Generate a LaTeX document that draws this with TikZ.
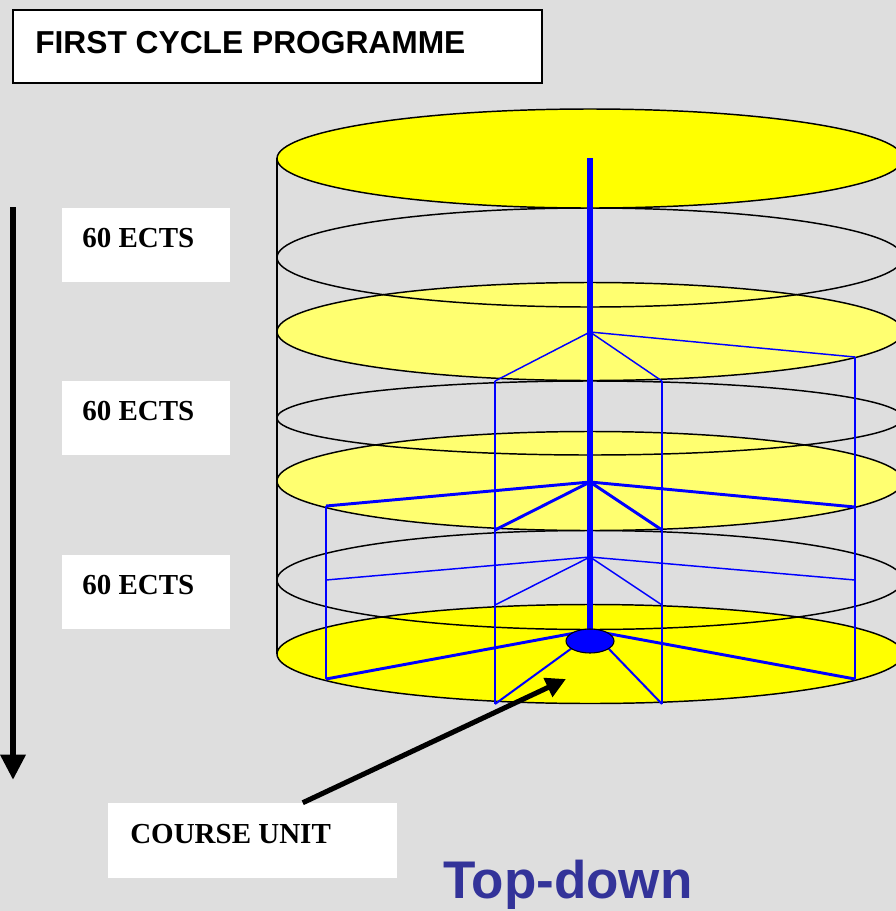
\documentclass[tikz,border=0pt]{standalone}
\usepackage{fontspec}
\setmainfont{Liberation Serif}
\newfontfamily\arialfont{Liberation Sans}
\usetikzlibrary{arrows.meta}
\definecolor{bgray}{RGB}{222,222,222}
\definecolor{ylw}{RGB}{255,255,0}
\definecolor{lylw}{RGB}{255,255,112}
\definecolor{tdblue}{RGB}{51,51,153}
\definecolor{rodblue}{RGB}{0,0,255}
\tikzset{
  cyl/.style={draw=black, line width=1.1pt},
  bthin/.style={draw=rodblue, line width=1.1pt},
  bmid/.style={draw=rodblue, line width=1.5pt},
  bthick/.style={draw=rodblue, line width=2.2pt},
  ectsbox/.style={fill=white, draw=none},
  ectstext/.style={font=\bfseries\fontsize{21.75}{24}\selectfont, anchor=base west, inner sep=0pt},
}
\begin{document}
\begin{tikzpicture}[x=0.75pt,y=-0.75pt]
\useasboundingbox (0,0) rectangle (896,911);
\fill[bgray] (0,0) rectangle (896,911);

% title box
\node[draw=black, line width=1.5pt, fill=white, minimum width=529*0.75pt, minimum height=73*0.75pt, inner sep=0pt] (titlebox) at (277.5,46.5) {};
\node[font=\arialfont\bfseries\fontsize{23.8}{26}\selectfont, anchor=base west, inner sep=0pt] (title) at (35,53) {FIRST CYCLE PROGRAMME};

% cylinder
\begin{scope}
\clip (0,0) rectangle (896,911);
\draw[cyl] (277,158) -- (277,654);
\draw[cyl, fill=ylw] (590,654) ellipse [x radius=313, y radius=49.5];
\draw[cyl] (590,580) ellipse [x radius=313, y radius=49.5];
\draw[cyl, fill=lylw] (590,481) ellipse [x radius=313, y radius=49.5];
\draw[cyl] (590,418) ellipse [x radius=313, y radius=37];
\draw[cyl, fill=lylw] (590,331.5) ellipse [x radius=313, y radius=49];
\draw[cyl] (590,257.5) ellipse [x radius=313, y radius=49.5];
\draw[cyl, fill=ylw] (590,158.5) ellipse [x radius=313, y radius=49.5];
\end{scope}

% blue structure
\coordinate (top) at (590,158);
\coordinate (h1) at (590,332);
\coordinate (h2) at (590,482);
\coordinate (h3) at (590,557);
\coordinate (p1t) at (495,381); \coordinate (p1b) at (495,704);
\coordinate (p2t) at (662,381); \coordinate (p2b) at (662,704);
\coordinate (p3t) at (855,357); \coordinate (p3b) at (855,679);
\coordinate (p4t) at (326,506); \coordinate (p4b) at (326,679);

\draw[bthin] (p1t) -- (p1b);
\draw[bthin] (p2t) -- (p2b);
\draw[bthin] (p3t) -- (p3b);
\draw[bthin] (p4t) -- (p4b);

\draw[bthin] (p1t) -- (h1) -- (p2t);
\draw[bthin] (h1) -- (p3t);

\draw[bthick] (p4t) -- (h2) -- (855,507);
\draw[bthick] (495,530) -- (h2) -- (662,530);

\draw[bthin] (326,580) -- (h3) -- (855,580);
\draw[bthin] (495,605) -- (h3) -- (662,605);

\draw[bthick] (p4b) -- (575,633);
\draw[bthick] (p3b) -- (605,633);
\draw[bmid] (p1b) -- (572,648);
\draw[bmid] (p2b) -- (608,648);

\draw[draw=rodblue, line width=3.8pt] (top) -- (590,636);
\draw[fill=rodblue, draw=black, line width=0.8pt] (590,641) ellipse [x radius=24, y radius=12];
\coordinate (cutip) at (566,679);

% ECTS boxes
\node[ectsbox, minimum width=168*0.75pt, minimum height=74*0.75pt, inner sep=0pt] (b1) at (146,245) {};
\node[ectstext] (t1) at (82,247) {60 ECTS};
\node[ectsbox, minimum width=168*0.75pt, minimum height=74*0.75pt, inner sep=0pt] (b2) at (146,418) {};
\node[ectstext] (t2) at (82,420) {60 ECTS};
\node[ectsbox, minimum width=168*0.75pt, minimum height=74*0.75pt, inner sep=0pt] (b3) at (146,592) {};
\node[ectstext] (t3) at (82,594) {60 ECTS};

% left arrow
\coordinate (la) at (13,207);
\coordinate (lb) at (13,780);
\draw[line width=5.2pt, -{Triangle[length=19pt, width=18pt]}] (la) -- (lb);

% course unit
\node[ectsbox, minimum width=289*0.75pt, minimum height=75*0.75pt, inner sep=0pt] (cu) at (252.5,840.5) {};
\node[ectstext] (cut) at (130,843) {COURSE UNIT};
\coordinate (cutail) at ([xshift=146.25pt]cu.north west);
\draw[line width=3.8pt, -{Triangle[length=15pt, width=15pt]}] (cutail) -- (cutip);

% Top-down
\node[font=\arialfont\bfseries\fontsize{39.75}{44}\selectfont, text=tdblue, anchor=base west, inner sep=0pt] (td) at (443,898) {Top-down};
\end{tikzpicture}
\end{document}
